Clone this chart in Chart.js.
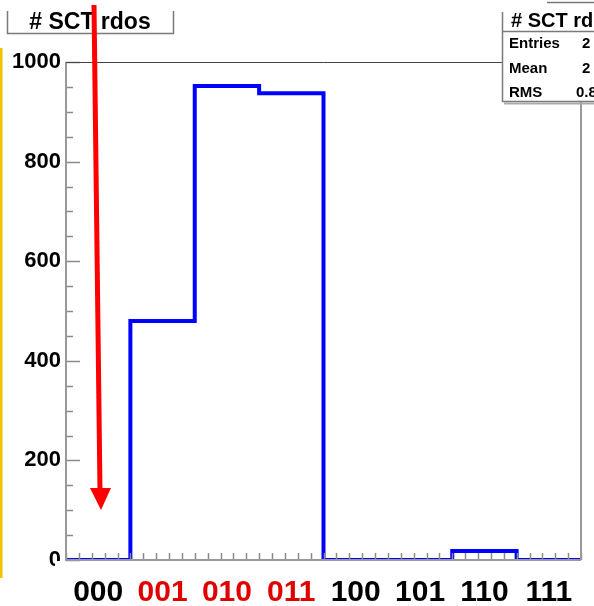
<!DOCTYPE html>
<html>
<head>
<meta charset="utf-8">
<script src="https://cdn.jsdelivr.net/npm/chart.js@4.4.1/dist/chart.umd.min.js"></script>
<style>
  html, body { margin: 0; padding: 0; background: #fff; }
  #wrap { width: 594px; height: 606px; }
</style>
</head>
<body>
<div id="wrap"><canvas id="myChart" width="594" height="606"></canvas></div>
<script>
"use strict";

// histogram bins (ROOT style, one bin per 3-bit pattern)
const binLabels = ["000", "001", "010", "011", "100", "101", "110", "111"];
const binCounts = [0, 480, 952, 937, 0, 0, 18, 0];
const labelColors = ["#000", "#e00000", "#e00000", "#e00000", "#000", "#000", "#000", "#000"];
const yTicks = [0, 200, 400, 600, 800, 1000];

const statNames = ["Entries", "Mean", "RMS"];
const statValues = ["2", "2", "0.8"];

const FONT = '"Liberation Sans", Arial, sans-serif';

// outline points: each bin's low edge, then drop at the last edge
const points = binCounts.map(function (v, i) {
  return { x: i - 0.5, y: v };
});
points.push({ x: binCounts.length - 0.5, y: 0 });

const frame = {
  id: "frame",
  afterDatasetsDraw(chart) {
    const ctx = chart.ctx;
    const a = chart.chartArea;
    const xs = chart.scales.x;
    const ys = chart.scales.y;
    ctx.save();
    ctx.strokeStyle = "#8a8a8a";
    ctx.lineWidth = 1.5;
    // y ticks (inward), minor every 50
    for (let v = ys.min; v <= ys.max; v += 50) {
      const py = Math.round(ys.getPixelForValue(v)) + 0.5;
      const len = v % 200 === 0 ? 14 : 7;
      ctx.beginPath();
      ctx.moveTo(a.left, py);
      ctx.lineTo(a.left + len, py);
      ctx.stroke();
    }
    // x ticks (inward), minor every 0.2
    for (let k = 0; k <= 40; k++) {
      const v = xs.min + k * 0.2;
      const px = Math.round(xs.getPixelForValue(v)) + 0.5;
      const major = Math.abs(v - Math.round(v)) < 1e-6;
      const len = major ? 13 : 7;
      ctx.beginPath();
      ctx.moveTo(px, a.bottom);
      ctx.lineTo(px, a.bottom - len);
      ctx.stroke();
    }
    // axes and frame
    ctx.lineWidth = 2;
    ctx.strokeStyle = "#999";
    ctx.beginPath();
    ctx.moveTo(a.left, a.top);
    ctx.lineTo(a.left, a.bottom);
    ctx.lineTo(a.right, a.bottom);
    ctx.moveTo(a.right, a.bottom);
    ctx.lineTo(a.right, a.top);
    ctx.stroke();
    ctx.lineWidth = 1;
    ctx.strokeStyle = "#444";
    ctx.beginPath();
    ctx.moveTo(a.left, a.top + 0.5);
    ctx.lineTo(a.right, a.top + 0.5);
    ctx.stroke();
    ctx.restore();
  },
  afterDraw(chart) {
    const ctx = chart.ctx;
    const a = chart.chartArea;
    ctx.save();

    // "0" label is partly cut off in the original
    ctx.fillStyle = "#fff";
    ctx.fillRect(a.left - 11, a.bottom + 1, 10, 16);

    // title box
    ctx.strokeStyle = "#7a7a7a";
    ctx.lineWidth = 1.5;
    ctx.beginPath();
    ctx.moveTo(7.5, 11);
    ctx.lineTo(7.5, 33.5);
    ctx.lineTo(173.5, 33.5);
    ctx.lineTo(173.5, 11);
    ctx.stroke();
    ctx.fillStyle = "#000";
    ctx.font = "bold 23px " + FONT;
    ctx.textAlign = "center";
    ctx.textBaseline = "alphabetic";
    ctx.fillText("# SCT rdos", 90, 29);

    // stats box
    ctx.fillStyle = "#fff";
    ctx.fillRect(502, 12, 100, 90);
    ctx.strokeStyle = "#7a7a7a";
    ctx.lineWidth = 1.5;
    ctx.beginPath();
    ctx.moveTo(502.5, 12);
    ctx.lineTo(502.5, 101.5);
    ctx.lineTo(600, 101.5);
    ctx.moveTo(502.5, 31.5);
    ctx.lineTo(600, 31.5);
    ctx.moveTo(547, 2.5);
    ctx.lineTo(600, 2.5);
    ctx.stroke();
    ctx.strokeStyle = "#aaa";
    ctx.lineWidth = 2;
    ctx.beginPath();
    ctx.moveTo(504, 103.5);
    ctx.lineTo(600, 103.5);
    ctx.stroke();
    ctx.fillStyle = "#000";
    ctx.textAlign = "left";
    ctx.font = "bold 20px " + FONT;
    ctx.fillText("# SCT rdos", 511, 27);
    ctx.font = "bold 15px " + FONT;
    const rowY = [48, 73, 97];
    statNames.forEach(function (n, i) {
      ctx.fillText(n, 509, rowY[i]);
      ctx.fillText(statValues[i], statValues[i].length > 1 ? 576 : 582, rowY[i]);
    });

    // yellow side line
    ctx.strokeStyle = "#f2c200";
    ctx.lineWidth = 3;
    ctx.beginPath();
    ctx.moveTo(1, 48);
    ctx.lineTo(1, 578);
    ctx.stroke();

    // red arrow
    ctx.strokeStyle = "#ff0000";
    ctx.fillStyle = "#ff0000";
    ctx.lineWidth = 5;
    ctx.beginPath();
    ctx.moveTo(94, 5);
    ctx.lineTo(100, 492);
    ctx.stroke();
    ctx.beginPath();
    ctx.moveTo(90, 488);
    ctx.lineTo(111, 488);
    ctx.lineTo(101, 510);
    ctx.closePath();
    ctx.fill();

    ctx.restore();
  }
};

const data = {
  datasets: [{
    data: points,
    borderColor: "#0000ff",
    borderWidth: 4,
    pointRadius: 0,
    fill: false,
    stepped: true,
    clip: 0
  }]
};

const config = {
  type: "line",
  data: data,
  options: {
    responsive: false,
    animation: false,
    layout: { padding: { top: 62, right: 13, left: 0, bottom: 0 } },
    plugins: { legend: { display: false }, tooltip: { enabled: false } },
    scales: {
      x: {
        type: "linear",
        min: -0.5,
        max: binLabels.length - 0.5,
        grid: { display: false },
        border: { display: false },
        afterFit: function (s) { s.height = 46; },
        afterBuildTicks: function (s) {
          s.ticks = binLabels.map(function (_, i) { return { value: i }; });
        },
        ticks: {
          autoSkip: false,
          maxRotation: 0,
          padding: 7,
          font: { family: FONT, size: 30, weight: "bold" },
          color: function (c) { return labelColors[c.index] || "#000"; },
          callback: function (v, i) { return binLabels[i]; }
        }
      },
      y: {
        min: 0,
        max: 1000,
        grid: { display: false },
        border: { display: false },
        afterFit: function (s) { s.width = 66; },
        afterBuildTicks: function (s) {
          s.ticks = yTicks.map(function (v) { return { value: v }; });
        },
        ticks: {
          padding: -3,
          font: { family: FONT, size: 22, weight: "bold" },
          color: "#000",
          callback: function (v) { return String(v); }
        }
      }
    }
  },
  plugins: [frame]
};

const myChart = new Chart(document.getElementById("myChart"), config);
</script>
</body>
</html>
